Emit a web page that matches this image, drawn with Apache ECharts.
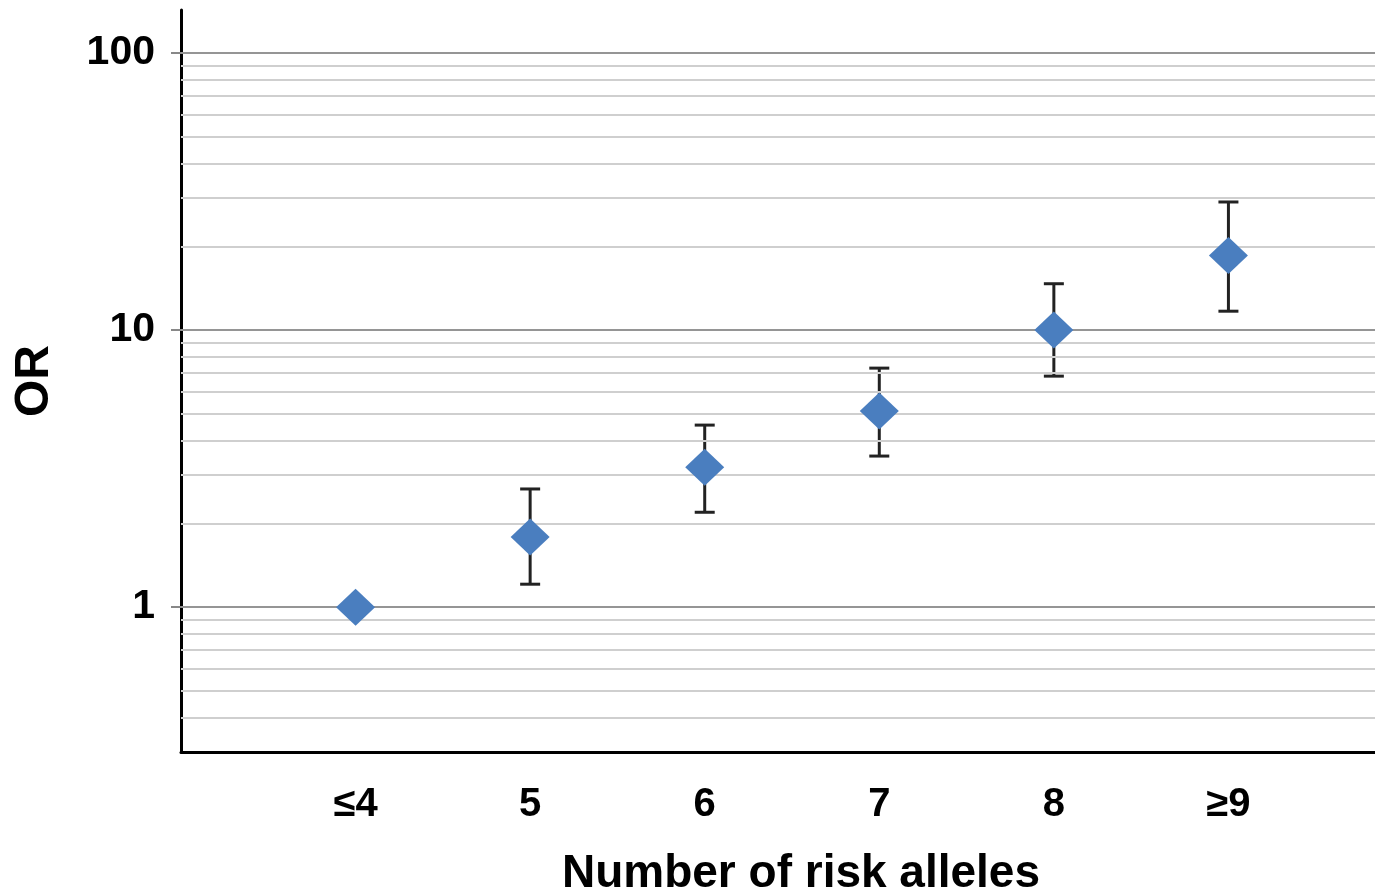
<!DOCTYPE html>
<html>
<head>
<meta charset="utf-8">
<script src="https://cdn.jsdelivr.net/npm/echarts@6/dist/echarts.min.js"></script>
<style>
html,body{margin:0;padding:0;background:#fff;}
#chart{width:1375px;height:891px;}
</style>
</head>
<body>
<div id="chart"></div>
<script>
// ---- data ----
var groups = ['≤4', '5', '6', '7', '8', '≥9'];
var orValues = [1.0, 1.79, 3.2, 5.1, 10.0, 18.6];
var ciLow = [null, 1.21, 2.2, 3.51, 6.82, 11.7];
var ciHigh = [null, 2.67, 4.54, 7.29, 14.7, 29.0];
var yMajorTicks = [1, 10, 100];
var yMinorGrid = [0.4, 0.5, 0.6, 0.7, 0.8, 0.9, 2, 3, 4, 5, 6, 7, 8, 9, 20, 30, 40, 50, 60, 70, 80, 90];

// axis categories padded with an empty slot at each end
var axisCats = [''].concat(groups).concat(['']);

var font = '"Liberation Sans", Arial, sans-serif';

var pointData = groups.map(function (g, i) { return [g, orValues[i]]; });
var barData = [];
groups.forEach(function (g, i) {
  if (ciLow[i] != null && ciHigh[i] != null) barData.push([g, ciLow[i], ciHigh[i]]);
});

var chart = echarts.init(document.getElementById('chart'), null, {renderer: 'canvas'});
chart.setOption({
  animation: false,
  backgroundColor: '#ffffff',
  grid: {left: 181, right: -28, top: 10, bottom: 139, containLabel: false, outerBoundsMode: 'none'},
  xAxis: {
    type: 'category',
    z: 4,
    data: axisCats,
    boundaryGap: false,
    axisLine: {lineStyle: {color: '#000', width: 3}},
    axisTick: {show: false},
    axisLabel: {color: '#000', fontFamily: font, fontWeight: 'bold', fontSize: 40, margin: 33, interval: 0},
    splitLine: {show: false},
    name: 'Number of risk alleles',
    nameLocation: 'middle',
    nameGap: 99,
    nameTextStyle: {color: '#000', fontFamily: font, fontWeight: 'bold', fontSize: 46, padding: [0, 0, 0, 18]}
  },
  yAxis: {
    type: 'log',
    z: 4,
    logBase: 10,
    min: 0.3,
    max: 143,
    axisLine: {show: true, lineStyle: {color: '#000', width: 3}},
    axisTick: {show: true, length: 10, lineStyle: {color: '#888', width: 2}, customValues: yMajorTicks},
    axisLabel: {
      color: '#000', fontFamily: font, fontWeight: 'bold', fontSize: 41, margin: 26,
      customValues: yMajorTicks,
      formatter: function (v) { return yMajorTicks.indexOf(Math.round(v * 1000) / 1000) >= 0 ? String(Math.round(v)) : ''; }
    },
    splitLine: {show: false},
    minorSplitLine: {show: false},
    name: 'OR',
    nameLocation: 'middle',
    nameRotate: 90,
    nameGap: 122,
    nameTextStyle: {color: '#000', fontFamily: font, fontWeight: 'bold', fontSize: 48}
  },
  series: [
    {
      type: 'line',
      data: [],
      silent: true,
      z: 1,
      markLine: {
        silent: true,
        symbol: ['none', 'none'],
        label: {show: false},
        animation: false,
        data: yMinorGrid.map(function (v) { return {yAxis: v, lineStyle: {color: '#cfcfcf', width: 2, type: 'solid'}}; })
          .concat(yMajorTicks.map(function (v) { return {yAxis: v, lineStyle: {color: '#959595', width: 2, type: 'solid'}}; }))
      }
    },
    {
      type: 'custom',
      z: 3,
      data: barData,
      encode: {x: 0, y: [1, 2]},
      renderItem: function (params, api) {
        var x = api.value(0);
        var lo = api.coord([x, api.value(1)]);
        var hi = api.coord([x, api.value(2)]);
        var cap = 10;
        var st = {stroke: '#222', lineWidth: 3};
        return {
          type: 'group',
          children: [
            {type: 'line', shape: {x1: lo[0], y1: lo[1], x2: hi[0], y2: hi[1]}, style: st},
            {type: 'line', shape: {x1: lo[0] - cap, y1: lo[1], x2: lo[0] + cap, y2: lo[1]}, style: st},
            {type: 'line', shape: {x1: hi[0] - cap, y1: hi[1], x2: hi[0] + cap, y2: hi[1]}, style: st}
          ]
        };
      }
    },
    {
      type: 'scatter',
      z: 5,
      symbol: 'diamond',
      symbolSize: [39, 37],
      itemStyle: {color: '#4a7ebf', opacity: 1},
      data: pointData
    }
  ]
});
</script>
</body>
</html>
